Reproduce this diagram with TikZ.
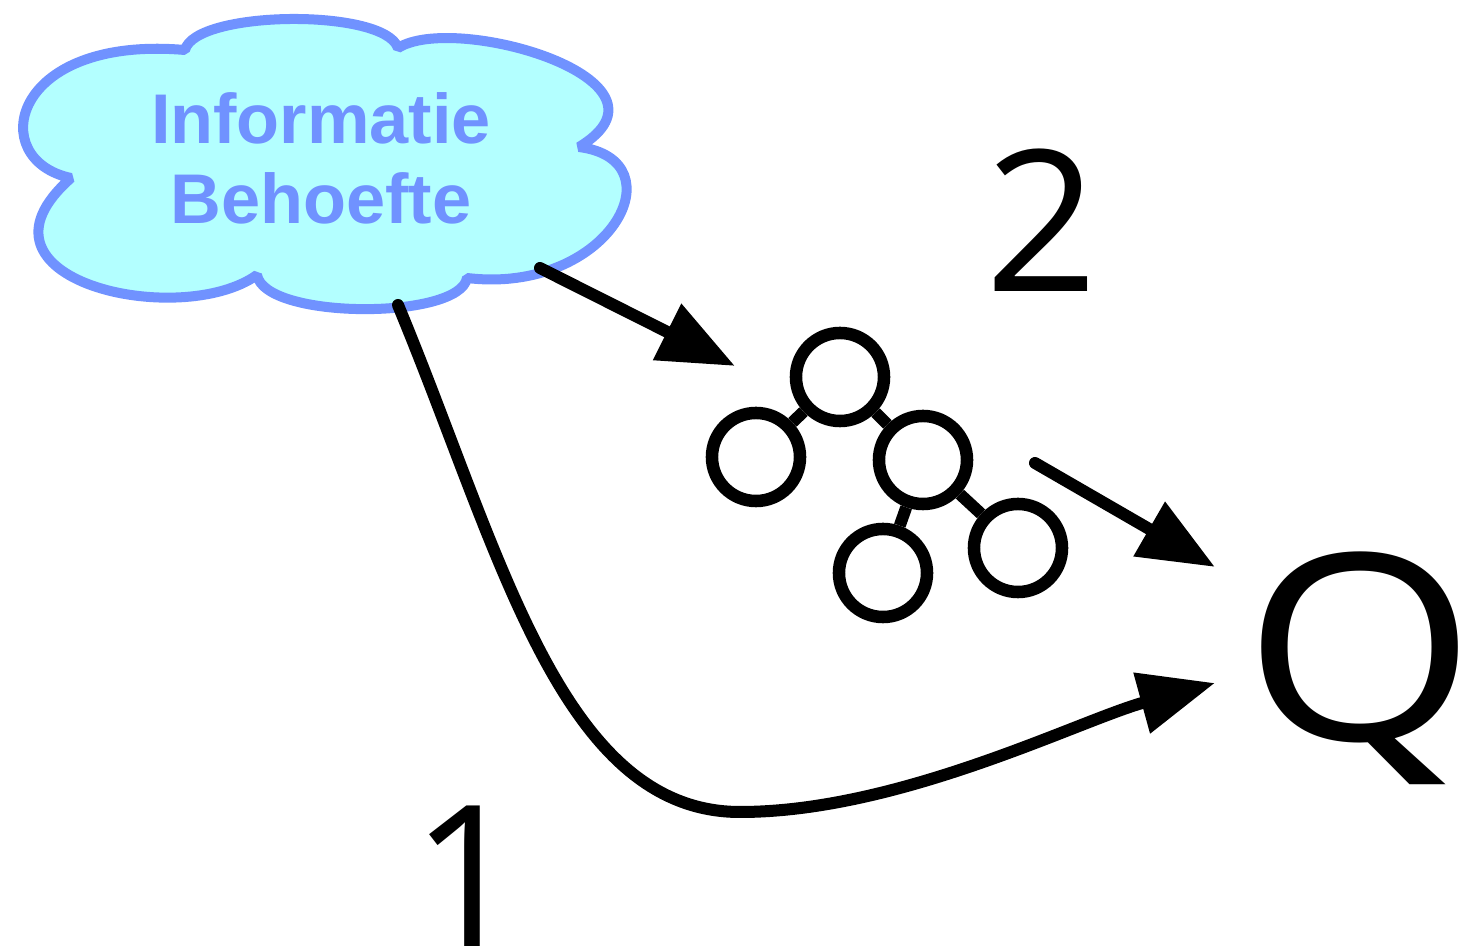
\documentclass[tikz,border=0pt]{standalone}
\usepackage{fontspec}
\setmainfont{Open Sans}
\newfontfamily\cloudfont{Liberation Sans}
\usetikzlibrary{arrows.meta}
\definecolor{cloudblue}{RGB}{112,146,255}
\definecolor{cloudfill}{RGB}{179,255,255}

\begin{document}
\begin{tikzpicture}[x=0.01cm,y=-0.01cm,
    tree node/.style={circle,draw,line width=0.125cm,minimum size=0.88cm,inner sep=0pt},
    big arrow/.style={line width=0.12cm,line cap=round,-{Triangle[length=0.76cm,width=0.6cm]}},
    big label/.style={inner sep=0pt,font=\fontsize{56}{60}\selectfont}]
   \useasboundingbox (0,0) rectangle (1459,946);
   % information need
   \draw[line width=0.1cm,line join=bevel,draw=cloudblue,fill=cloudfill] (71,178)
      .. controls (-15,160) and (10,35) .. (185,50)
      .. controls (195,10) and (385,8) .. (398,48)
      .. controls (455,12) and (690,80) .. (579,147)
      .. controls (680,160) and (610,295) .. (467,278)
      .. controls (460,320) and (265,320) .. (257,275)
      .. controls (180,330) and (-45,280) .. (71,178) -- cycle;
   \node[align=center,text=cloudblue,font=\cloudfont\bfseries\fontsize{20}{22.8}\selectfont] (need) at (321,158) {Informatie\\Behoefte};
   \coordinate (need a) at (540,268);
   \coordinate (need b) at (398,305);
   % tree
   \node[tree node] (root) at (840,377) {};
   \node[tree node] (lft) at (756,457) {};
   \node[tree node] (mid) at (923,460) {};
   \node[tree node] (bot) at (883,573) {};
   \node[tree node] (rgt) at (1018,548) {};
   \path[-,line width=0.12cm] (root) edge (lft);
   \path[-,line width=0.12cm] (root) edge (mid);
   \path[-,line width=0.12cm] (mid) edge (bot);
   \path[-,line width=0.12cm] (mid) edge (rgt);
   \coordinate (tree in) at (735,366);
   \coordinate (tree out) at (1035,463);
   % labels
   \node[big label,anchor=base west] (two) at (985,292) {2};
   \node[big label,anchor=base] (one) at (468,947) {1};
   \node[inner sep=0pt,anchor=base west,xscale=1.15,font=\fontsize{74}{80}\selectfont] (query) at (1243,741) {Q};
   \coordinate (query a) at (1215,567);
   \coordinate (query b) at (1215,683);
   % arrows
   \draw[big arrow] (need a) -- (tree in);
   \draw[big arrow] (tree out) -- (query a);
   \draw[big arrow] (need b) .. controls (500,550) and (560,812) .. (740,812)
      .. controls (900,812) and (1080,720) .. (query b);
\end{tikzpicture}
\end{document}
